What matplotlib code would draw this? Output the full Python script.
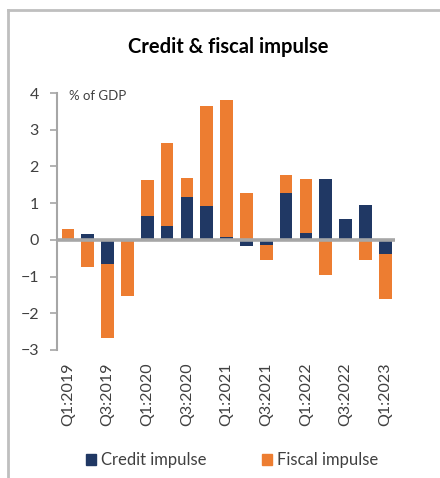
import matplotlib
matplotlib.use("Agg")
import matplotlib.pyplot as plt
from matplotlib.lines import Line2D
from matplotlib.patches import Patch

plt.rcParams['font.family'] = ['Lato', 'DejaVu Sans']

# quarterly data, % of GDP
quarters = ['Q1:2019', 'Q2:2019', 'Q3:2019', 'Q4:2019',
            'Q1:2020', 'Q2:2020', 'Q3:2020', 'Q4:2020',
            'Q1:2021', 'Q2:2021', 'Q3:2021', 'Q4:2021',
            'Q1:2022', 'Q2:2022', 'Q3:2022', 'Q4:2022',
            'Q1:2023']
credit = [0.0, 0.16, -0.67, 0.0,
          0.65, 0.37, 1.17, 0.93,
          0.07, -0.17, -0.15, 1.27,
          0.19, 1.65, 0.58, 0.96,
          -0.38]
fiscal = [0.30, -0.73, -2.0, -1.54,
          0.98, 2.27, 0.52, 2.72,
          3.75, 1.27, -0.41, 0.49,
          1.46, -0.97, 0.0, -0.56,
          -1.23]

navy = '#203864'
orange = '#ED7D31'
grey = '#A6A6A6'

fig = plt.figure(figsize=(4.4, 4.78), dpi=100)
ax = fig.add_axes([0.1295, 0.2678, 0.7685, 0.5376])

x = list(range(len(quarters)))
# excel-style stacking: positives and negatives stack separately
fiscal_bottom = [max(c, 0) if f >= 0 else min(c, 0) for c, f in zip(credit, fiscal)]

ax.bar(x, credit, width=0.64, color=navy, label='Credit impulse', zorder=2)
ax.bar(x, fiscal, width=0.64, bottom=fiscal_bottom, color=orange,
       label='Fiscal impulse', zorder=2)

ax.axhline(0, color=grey, lw=2.6, zorder=3)

ax.set_xlim(-0.55, 16.5)
ax.set_ylim(-3, 4)
ax.set_yticks(range(-3, 5))
ax.set_xticks(x[::2])
ax.set_xticklabels(quarters[::2], rotation=90, fontsize=11.5, color='#404040')
ax.tick_params(axis='x', length=0, pad=9)
ax.tick_params(axis='y', direction='out', length=5, width=1.2, color=grey,
               labelsize=11.5, labelcolor='#404040', pad=8)

for s in ['top', 'right', 'bottom']:
    ax.spines[s].set_visible(False)
ax.spines['left'].set_color(grey)
ax.spines['left'].set_linewidth(1.5)

ax.text(0.035, 1.012, '% of GDP', transform=ax.transAxes, va='top', ha='left',
        fontsize=9.5, color='#404040')

fig.text(0.518, 0.902, 'Credit & fiscal impulse', ha='center', va='center',
         fontsize=14.5, fontweight='bold', color='black')

handles = [Patch(color=navy), Patch(color=orange)]
fig.legend(handles, ['Credit impulse', 'Fiscal impulse'], loc='center',
           bbox_to_anchor=(0.527, 0.037), ncol=2, frameon=False, fontsize=12,
           handlelength=0.6, handleheight=0.6, handletextpad=0.3,
           columnspacing=3.3, labelcolor='#404040')

# outer chart frame (left and top edges visible)
fig.add_artist(Line2D([8 / 440, 8 / 440], [0, 1 - 10 / 478],
                      transform=fig.transFigure, color='#BFBFBF', lw=2))
fig.add_artist(Line2D([8 / 440, 1], [1 - 10 / 478, 1 - 10 / 478],
                      transform=fig.transFigure, color='#BFBFBF', lw=2))

fig.savefig('out.png', dpi=100)
